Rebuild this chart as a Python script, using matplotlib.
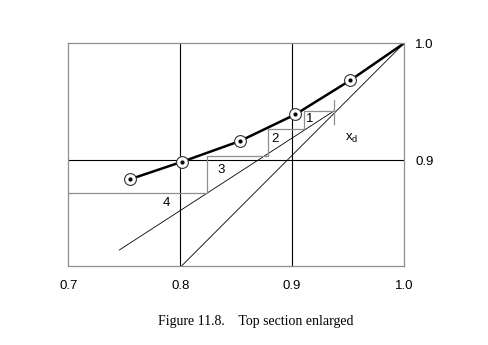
import numpy as np
from matplotlib import pyplot as plt

plt.rcParams['font.family'] = ['Liberation Sans', 'DejaVu Sans']

# Кривая равновесия (точки отмечены кружками)
eqX = [0.755, 0.802, 0.8534, 0.903, 0.952, 1.0]
eqY = [0.8838, 0.8989, 0.9165, 0.9393, 0.9684, 1.0]

# Диагональ и рабочая линия
diagX = [0.8015, 1.0]
diagY = [0.81, 1.0]
opX = [0.7456, 0.9377]
opY = [0.8234, 0.9424]

# Ступени от x_d вниз
stepX = [0.9377, 0.9108, 0.9108, 0.8782, 0.8782, 0.8237, 0.8237, 0.7]
stepY = [0.9424, 0.9424, 0.9264, 0.9264, 0.904, 0.904, 0.8719, 0.8719]
stageLabels = ['1', '2', '3', '4']
stageX = [0.9154, 0.8847, 0.8367, 0.7873]
stageY = [0.9351, 0.918, 0.8918, 0.8633]

xd = 0.9377
xdTick = [0.931, 0.9515]

xTicks = [0.7, 0.8, 0.9, 1.0]
yTicks = [0.9, 1.0]

fig = plt.figure(figsize=(4.89, 3.45), dpi=100)
ax = fig.add_axes([0.1397, 0.2299, 0.8262 - 0.1397, 0.8745 - 0.2299])
ax.set_xlim(0.7, 1.0)
ax.set_ylim(0.81, 1.0)

grey = '#8f8f8f'
for s in ax.spines.values():
    s.set_color(grey)
    s.set_linewidth(0.9)

ax.axvline(0.8, color='k', lw=0.8)
ax.axvline(0.9, color='k', lw=0.8)
ax.axhline(0.9, color='k', lw=0.8)

ax.plot(diagX, diagY, color='k', lw=0.6)
ax.plot(opX, opY, color='k', lw=0.6)
ax.plot(stepX, stepY, color=grey, lw=0.9)
ax.plot([xd, xd], xdTick, color=grey, lw=0.9)

ax.plot(eqX, eqY, color='k', lw=1.8, solid_joinstyle='round')
ax.plot(eqX[:-1], eqY[:-1], 'o', ms=8.5, mfc='white', mec='#333333', mew=0.8)
ax.plot(eqX[:-1], eqY[:-1], 'o', ms=2, color='k')

for lab, x, y in zip(stageLabels, stageX, stageY):
    ax.text(x, y, lab, fontsize=9.5, ha='center', va='center')
ax.text(0.9535, 0.919, r'x$_\mathregular{d}$', fontsize=9.5, ha='center', va='center')

ax.set_xticks(xTicks)
ax.set_xticklabels(['%.1f' % t for t in xTicks])
ax.set_yticks(yTicks)
ax.set_yticklabels(['%.1f' % t for t in yTicks])
ax.yaxis.tick_right()
ax.tick_params(length=0, labelsize=9.5)
ax.tick_params(axis='x', pad=10)
ax.tick_params(axis='y', pad=8)

fig.text(0.5235, 0.067, 'Figure 11.8.    Top section enlarged',
         family='Liberation Serif', fontsize=10, ha='center', va='center')

fig.savefig('out.png', dpi=100)
